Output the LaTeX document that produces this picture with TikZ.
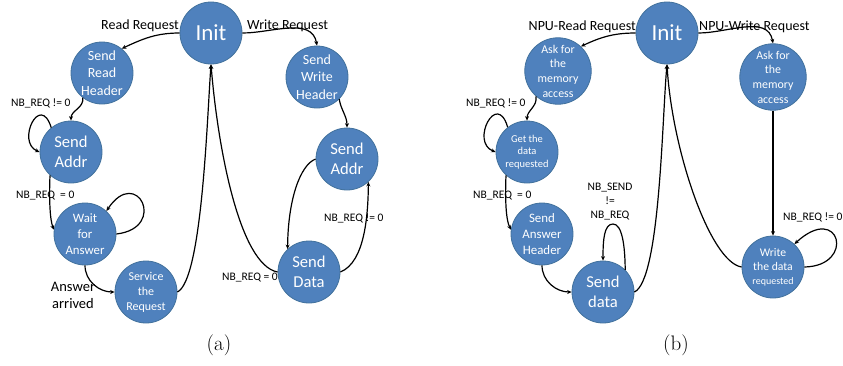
\documentclass[tikz,border=0pt]{standalone}
\usepackage{fontspec}
\newfontfamily\calfont{Carlito}
\usetikzlibrary{arrows.meta}
\definecolor{stfill}{HTML}{4F81BD}
\definecolor{stline}{HTML}{41719C}
\tikzset{
  st/.style={circle, fill=stfill, draw=stline, line width=0.8pt, minimum size=62pt, inner sep=0pt,
    text=white, align=center, font=\calfont},
  fz/.style 2 args={font=\calfont\fontsize{#1}{#2}\selectfont},
  conn/.style={draw=black, line width=1.2pt, -{Stealth[length=4.5pt,width=4pt]}},
  elab/.style={font=\calfont\fontsize{11.5}{14}\selectfont, inner sep=0pt, align=center},
  blab/.style={font=\calfont\fontsize{14}{17}\selectfont, inner sep=0pt, align=center},
  captxt/.style={font=\fontsize{21}{25}\selectfont, inner sep=0pt}
}
\begin{document}
\begin{tikzpicture}[x=1pt, y=-1pt]
\useasboundingbox (0,0) rectangle (843,365);
% ---------- panel (a) ----------
\node[st, fz={23}{26}] (ia) at (211,33) {Init};
\node[st, fz={14}{17.5}] (srh) at (102,73) {Send\\Read\\Header};
\node[st, fz={14}{17.5}] (swh) at (317,77) {Send\\Write\\Header};
\node[st, fz={16.6}{20}] (sa1) at (71,152) {Send\\Addr};
\node[st, fz={16.6}{20}] (sa2) at (347,159) {Send\\Addr};
\node[st, fz={12.8}{16}] (wfa) at (85,234) {Wait\\for\\Answer};
\node[st, fz={12}{15}] (str) at (146,292) {Service\\the\\Request};
\node[st, fz={16.6}{20}] (sda) at (309,272) {Send\\Data};

\draw[conn] (ia.west) to[out=180,in=25] (srh.51);
\draw[conn] (ia.east) to[out=0,in=100] (swh.north);
\draw[conn] (srh.232) to[out=-80,in=90] (sa1.north);
\draw[conn] (sa1.129) .. controls (40,92) and (16,142) .. (sa1.west);
\draw[conn] (sa1.228) .. controls (49,200) and (50,220) .. (wfa.172);
\draw[conn] (wfa.east) .. controls (168,228) and (137,165) .. (wfa.47);
\draw[conn] (wfa.south) to[out=-90,in=180] (str.west);
\draw[conn] (str.east) .. controls (202,280) and (207,120) .. (ia.south);
\draw[conn] (sda.west) .. controls (240,265) and (218,150) .. (ia.south);
\draw[conn] (swh.-45) to[out=-80,in=90] (sa2.north);
\draw[conn] (sa2.west) .. controls (300,165) and (288,200) .. (sda.133);
\draw[conn] (sda.east) .. controls (365,262) and (368,215) .. (sa2.-47);

\node[blab, anchor=east] (lrr) at (179,26) {Read Request};
\node[blab, anchor=west] (lwr) at (247,26) {Write Request};
\node[elab, anchor=west] (la1) at (11,103) {NB\_REQ != 0};
\node[elab, anchor=west] (la2) at (16,196) {NB\_REQ\ \ = 0};
\node[blab, fz={14.5}{17}] (la3) at (73,295) {Answer\\arrived};
\node[elab, anchor=east] (la4) at (278,278) {NB\_REQ = 0};
\node[elab, anchor=west] (la5) at (324,218) {NB\_REQ != 0};
\node[captxt] (capa) at (219,345) {(a)};

% ---------- panel (b) ----------
\node[st, fz={23}{26}] (ib) at (667,33) {Init};
\node[st, fz={11.9}{14.7}] (ask1) at (558,71) {Ask for\\the\\memory\\access};
\node[st, fz={11.9}{14.7}] (ask2) at (773,77) {Ask for\\the\\memory\\access};
\node[st, fz={10.5}{12.5}] (gdr) at (527,152) {Get the\\data\\requested};
\node[st, fz={12.9}{16}] (sah) at (542,234) {Send\\Answer\\Header};
\node[st, fz={16.6}{19.5}] (sdb) at (603,292) {Send\\data};
\node[st, fz={11.7}{14}] (wdr) at (773,267) {Write\\the data\\{\fontsize{10}{14}\selectfont requested}};

\draw[conn] (ib.west) to[out=180,in=25] (ask1.47);
\draw[conn] (ib.east) to[out=0,in=100] (ask2.north);
\draw[conn] (ask1.229) to[out=-80,in=90] (gdr.north);
\draw[conn] (gdr.128) .. controls (497,90) and (470,142) .. (gdr.west);
\draw[conn] (gdr.228) .. controls (505,200) and (506,220) .. (sah.172);
\draw[conn] (sah.south) to[out=-90,in=180] (sdb.west);
\draw[conn] (sdb.45) .. controls (625,245) and (622,224) .. (613,224) .. controls (604,224) and (603,240) .. (sdb.north);
\draw[conn] (sdb.east) .. controls (660,280) and (662,120) .. (ib.south);
\draw[conn] (wdr.west) .. controls (710,262) and (672,150) .. (ib.south);
\draw[conn] (ask2.south) -- (wdr.north);
\draw[conn] (wdr.east) .. controls (856,266) and (840,202) .. (wdr.47);

\node[blab, anchor=east] (lnr) at (636,27) {NPU-Read Request};
\node[blab, anchor=west] (lnw) at (699,27) {NPU-Write Request};
\node[elab, anchor=west] (lb1) at (466,103) {NB\_REQ != 0};
\node[elab, anchor=west] (lb2) at (473,196) {NB\_REQ\ \ = 0};
\node[elab, fz={11.5}{14}] (lb3) at (610,202) {NB\_SEND\\!=\\NB\_REQ};
\node[elab, anchor=west] (lb4) at (783,217) {NB\_REQ != 0};
\node[captxt] (capb) at (676,345) {(b)};
\end{tikzpicture}
\end{document}
